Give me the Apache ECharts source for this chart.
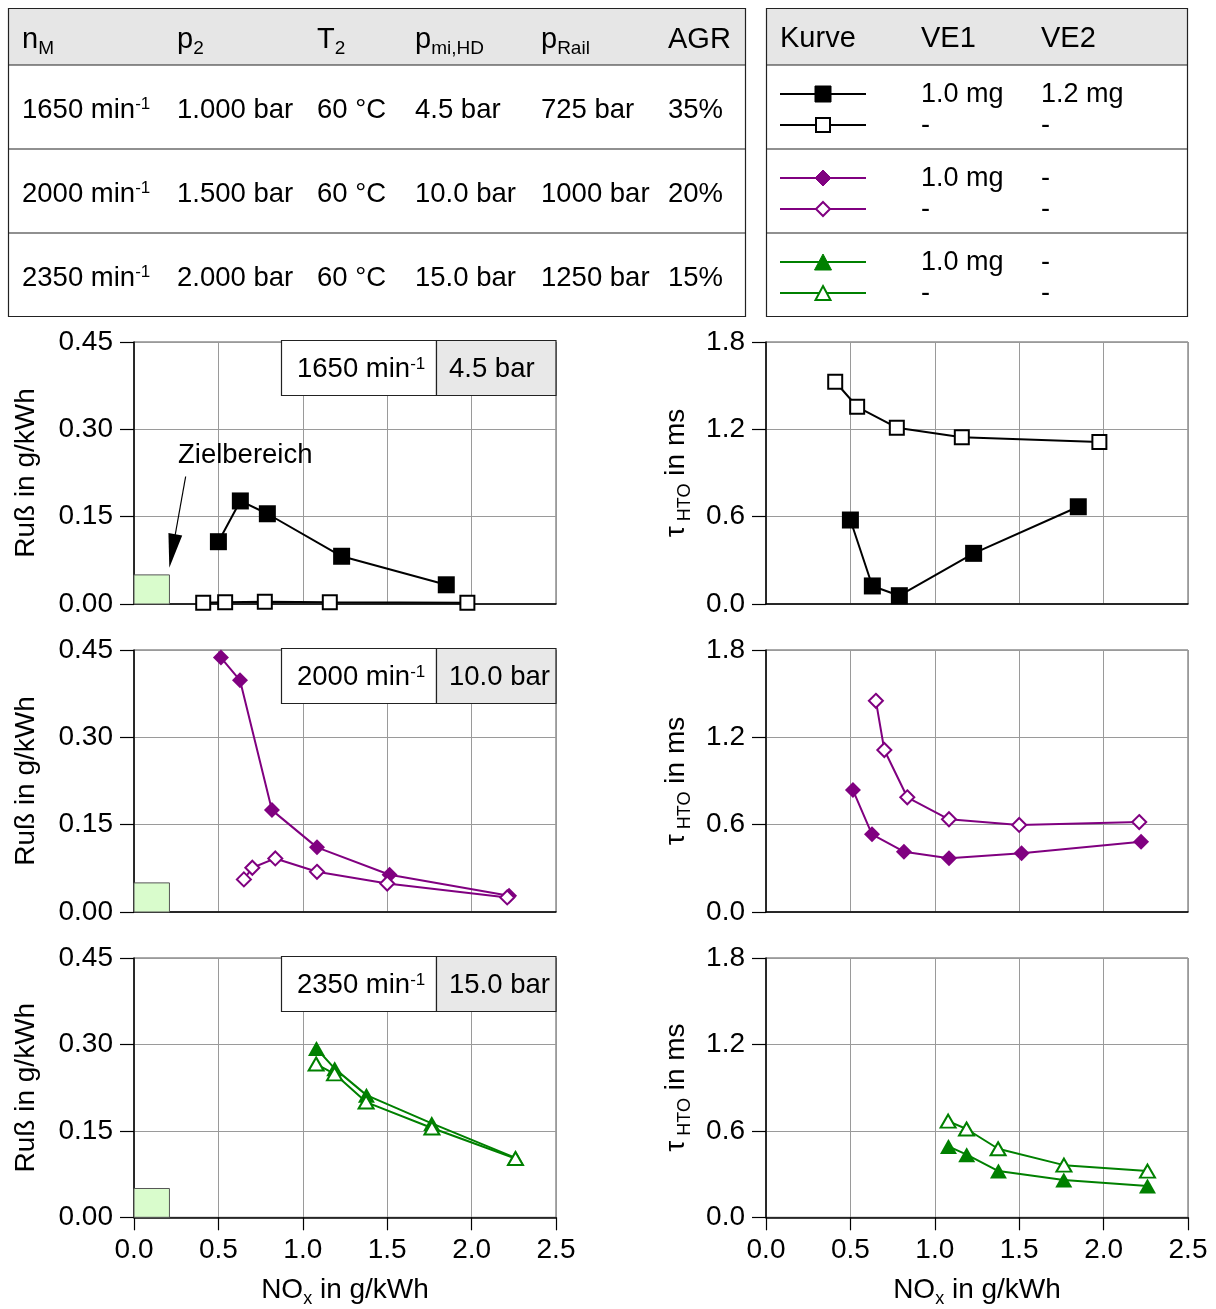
<!DOCTYPE html>
<html lang="de">
<head>
<meta charset="UTF-8">
<title>Ruß und τHTO über NOx</title>
<script src="https://cdn.jsdelivr.net/npm/echarts@6.0.0/dist/echarts.min.js"></script>
<style>
    html, body { margin: 0; padding: 0; background: #fff; }
    #chart { width: 1216px; height: 1309px; }
</style>
</head>
<body>
<div id="chart"></div>
<script>
// Betriebspunkte (Tabelle links)
const speeds = ['1650', '2000', '2350'];
const boost = ['1.000', '1.500', '2.000'];
const chargeTemp = ['60', '60', '60'];
const pmiHD = ['4.5', '10.0', '15.0'];
const pRail = ['725', '1000', '1250'];
const egr = ['35%', '20%', '15%'];

// Kurven-Tabelle rechts: [gefüllt, offen]
const ve1 = [['1.0 mg', '-'], ['1.0 mg', '-'], ['1.0 mg', '-']];
const ve2 = [['1.2 mg', '-'], ['-', '-'], ['-', '-']];

// 1650 min-1 / 4.5 bar
const noxBlackFilled = [0.50, 0.63, 0.79, 1.23, 1.85];
const sootBlackFilled = [0.107, 0.177, 0.155, 0.082, 0.033];
const tauBlackFilled = [0.577, 0.124, 0.057, 0.348, 0.668];
const noxBlackOpen = [0.41, 0.54, 0.775, 1.16, 1.975];
const sootBlackOpen = [0.002, 0.003, 0.004, 0.003, 0.002];
const tauBlackOpen = [1.527, 1.355, 1.211, 1.145, 1.113];

// 2000 min-1 / 10.0 bar
const noxPurpleFilled = [0.515, 0.628, 0.817, 1.084, 1.514, 2.222];
const sootPurpleFilled = [0.437, 0.398, 0.175, 0.111, 0.064, 0.028];
const tauPurpleFilled = [0.838, 0.534, 0.414, 0.369, 0.403, 0.483];
const noxPurpleOpen = [0.651, 0.701, 0.837, 1.084, 1.500, 2.211];
const sootPurpleOpen = [0.056, 0.076, 0.092, 0.069, 0.049, 0.025];
const tauPurpleOpen = [1.451, 1.113, 0.788, 0.637, 0.598, 0.618];

// 2350 min-1 / 15.0 bar
const noxGreenFilled = [1.081, 1.189, 1.377, 1.764, 2.260];
const sootGreenFilled = [0.293, 0.258, 0.212, 0.163, 0.103];
const tauGreenFilled = [0.492, 0.435, 0.321, 0.259, 0.218];
const noxGreenOpen = [1.079, 1.188, 1.375, 1.765, 2.260];
const sootGreenOpen = [0.266, 0.249, 0.200, 0.155, 0.102];
const tauGreenOpen = [0.668, 0.613, 0.476, 0.362, 0.321];

// Zielbereich (NOx, Ruß) und Pfeil
const targetCorner = [0.21, 0.05];
const arrowFrom = [0.306, 0.219];
const arrowTo = [0.227, 0.091];

const xTicks = [0, 0.5, 1.0, 1.5, 2.0, 2.5];
const sootTicks = [0, 0.15, 0.30, 0.45];
const tauTicks = [0, 0.6, 1.2, 1.8];

const FONT = "'Liberation Sans', Arial, Helvetica, sans-serif";
const BLACK = '#000000', PURPLE = '#800080', GREEN = '#008000';

// Layout
const GX = [134, 766], GY = [342, 650, 958], GW = 422, GH = 262;

// rich text with sub/superscript
function richFor(fs) {
    const L = Math.round(fs * 1.35);
    const sp = Math.round(fs * 0.62), sb = Math.round(fs * 0.66);
    return {
        m: { fontSize: fs, lineHeight: L, fontFamily: FONT, fill: '#000', color: '#000' },
        sup: { fontSize: sp, height: L - 0.812 * (fs - sp) - 2, verticalAlign: 'top', fontFamily: FONT, fill: '#000', color: '#000' },
        sub: { fontSize: sb, height: L - 1.02 * fs + 0.62 * sb, verticalAlign: 'bottom', fontFamily: FONT, fill: '#000', color: '#000' }
    };
}
const minTxt = s => '{m|' + s + ' min}{sup|-1}';

function text(x, y, str, fs, align) {
    return {
        type: 'text', x: x, y: y, z: 20,
        style: { text: str, rich: richFor(fs), fontFamily: FONT, fontSize: fs, fill: '#000', align: align || 'left', verticalAlign: 'middle' }
    };
}
function rect(x, y, w, h, fill, stroke, lw) {
    return { type: 'rect', z: 10, shape: { x: x, y: y, width: w, height: h }, style: { fill: fill, stroke: stroke || null, lineWidth: lw || 1 } };
}
function hline(x1, x2, y, color, lw) {
    return { type: 'line', z: 11, shape: { x1: x1, y1: y, x2: x2, y2: y }, style: { stroke: color, lineWidth: lw || 1.2 } };
}

const graphics = [];

// --- Tabelle Betriebspunkte ---
graphics.push(rect(8.5, 8.5, 737, 56.5, '#e6e6e6'));
graphics.push(rect(8.5, 8.5, 737, 308, 'none', '#222', 1.2));
[65, 149, 233].forEach(y => graphics.push(hline(8.5, 745.5, y, '#222', 1.2)));
const colX = [22, 177, 317, 415, 541, 668];
const heads = ['{m|n}{sub|M}', '{m|p}{sub|2}', '{m|T}{sub|2}', '{m|p}{sub|mi,HD}', '{m|p}{sub|Rail}', '{m|AGR}'];
heads.forEach((h, i) => graphics.push(text(colX[i], 40, h, 29)));
const rowY = [110, 194, 278];
for (let r = 0; r < 3; r++) {
    const cells = [minTxt(speeds[r]), '{m|' + boost[r] + ' bar}', '{m|' + chargeTemp[r] + ' °C}',
        '{m|' + pmiHD[r] + ' bar}', '{m|' + pRail[r] + ' bar}', '{m|' + egr[r] + '}'];
    cells.forEach((c, i) => graphics.push(text(colX[i], rowY[r], c, 27.5)));
}

// --- Tabelle Kurven ---
graphics.push(rect(766.5, 8.5, 421, 56.5, '#e6e6e6'));
graphics.push(rect(766.5, 8.5, 421, 308, 'none', '#222', 1.2));
[65, 149, 233].forEach(y => graphics.push(hline(766.5, 1187.5, y, '#222', 1.2)));
graphics.push(text(780, 39, '{m|Kurve}', 29));
graphics.push(text(921, 39, '{m|VE1}', 29));
graphics.push(text(1041, 39, '{m|VE2}', 29));

const legendRows = [
    { color: BLACK, shape: 'square', y: [94, 125] },
    { color: PURPLE, shape: 'diamond', y: [178, 209] },
    { color: GREEN, shape: 'triangle', y: [262, 293] }
];
function legendMark(shape, cx, cy, color, filled) {
    const style = filled ? { fill: color, stroke: color, lineWidth: 1 } : { fill: '#fff', stroke: color, lineWidth: 2 };
    if (shape === 'square') {
        const s = filled ? 16 : 14;
        return { type: 'rect', z: 12, shape: { x: cx - s / 2, y: cy - s / 2, width: s, height: s }, style: style };
    }
    if (shape === 'diamond') {
        const s = filled ? 8 : 7;
        return { type: 'polygon', z: 12, shape: { points: [[cx, cy - s], [cx + s, cy], [cx, cy + s], [cx - s, cy]] }, style: style };
    }
    const w = filled ? 8.5 : 7.5, h = filled ? 8 : 7;
    return { type: 'polygon', z: 12, shape: { points: [[cx, cy - h], [cx + w, cy + h], [cx - w, cy + h]] }, style: style };
}
legendRows.forEach((lr, r) => {
    [0, 1].forEach(k => {
        graphics.push(hline(780, 866, lr.y[k], lr.color, 2));
        graphics.push(legendMark(lr.shape, 823, lr.y[k], lr.color, k === 0));
        graphics.push(text(921, lr.y[k] + 1, '{m|' + ve1[r][k] + '}', 27));
        graphics.push(text(1041, lr.y[k] + 1, '{m|' + ve2[r][k] + '}', 27));
    });
});

// --- Kästen in den Ruß-Diagrammen ---
for (let r = 0; r < 3; r++) {
    const right = GX[0] + GW, top = GY[r] - 1.5;
    graphics.push(rect(281.5, top, 155, 55, '#fff', '#222', 1.2));
    graphics.push(rect(436.5, top, right - 436.5, 55, '#e8e8e8', '#222', 1.2));
    graphics.push(text(297, top + 29, minTxt(speeds[r]), 27.5));
    graphics.push(text(449, top + 29, '{m|' + pmiHD[r] + ' bar}', 27.5));
}
graphics.push(text(178, 455, '{m|Zielbereich}', 27.5));

// --- Achsen ---
const grids = [], xAxes = [], yAxes = [];
for (let r = 0; r < 3; r++) {
    for (let c = 0; c < 2; c++) {
        const i = r * 2 + c;
        const ticks = c === 0 ? sootTicks : tauTicks;
        grids.push({ left: GX[c], top: GY[r], width: GW, height: GH, show: true, borderColor: '#555', borderWidth: 1, backgroundColor: 'transparent' });
        xAxes.push({
            gridIndex: i, type: 'value', min: xTicks[0], max: xTicks[xTicks.length - 1], interval: xTicks[1] - xTicks[0],
            axisLine: { show: true, onZero: false, lineStyle: { color: '#000', width: 1.5 } },
            axisTick: { show: r === 2, length: 13, lineStyle: { color: '#000', width: 1.2 } },
            axisLabel: { show: r === 2, fontSize: 28, fontFamily: FONT, color: '#000', margin: 19, formatter: v => v.toFixed(1) },
            splitLine: { show: true, lineStyle: { color: '#9a9a9a', width: 1 } },
            name: r === 2 ? '{m|NO}{sub|x}{m| in g/kWh}' : '',
            nameLocation: 'middle', nameGap: 54,
            nameTextStyle: { rich: richFor(28) }
        });
        yAxes.push({
            gridIndex: i, type: 'value', min: ticks[0], max: ticks[ticks.length - 1], interval: ticks[1] - ticks[0],
            axisLine: { show: true, onZero: false, lineStyle: { color: '#000', width: 1.5 } },
            axisTick: { show: true, length: 14, lineStyle: { color: '#000', width: 1.2 } },
            axisLabel: { fontSize: 28, fontFamily: FONT, color: '#000', margin: 21, formatter: v => v.toFixed(c === 0 ? 2 : 1) },
            splitLine: { show: true, lineStyle: { color: '#9a9a9a', width: 1 } },
            name: c === 0 ? '{m|Ruß in g/kWh}' : '{m|τ}{sub| HTO}{m| in ms}',
            nameLocation: 'middle', nameGap: c === 0 ? 89 : 71,
            nameTextStyle: { rich: richFor(28) }
        });
    }
}

// --- Kurven ---
const curves = [
    { row: 0, nox: noxBlackFilled, soot: sootBlackFilled, tau: tauBlackFilled, color: BLACK, symbol: 'rect', size: 17, filled: true },
    { row: 0, nox: noxBlackOpen, soot: sootBlackOpen, tau: tauBlackOpen, color: BLACK, symbol: 'rect', size: 14, filled: false },
    { row: 1, nox: noxPurpleFilled, soot: sootPurpleFilled, tau: tauPurpleFilled, color: PURPLE, symbol: 'diamond', size: 16, filled: true },
    { row: 1, nox: noxPurpleOpen, soot: sootPurpleOpen, tau: tauPurpleOpen, color: PURPLE, symbol: 'diamond', size: 14, filled: false },
    { row: 2, nox: noxGreenFilled, soot: sootGreenFilled, tau: tauGreenFilled, color: GREEN, symbol: 'triangle', size: [17, 15], filled: true },
    { row: 2, nox: noxGreenOpen, soot: sootGreenOpen, tau: tauGreenOpen, color: GREEN, symbol: 'triangle', size: [15, 13], filled: false }
];

const series = [];
curves.forEach(cv => {
    [0, 1].forEach(c => {
        const ys = c === 0 ? cv.soot : cv.tau;
        const s = {
            type: 'line', xAxisIndex: cv.row * 2 + c, yAxisIndex: cv.row * 2 + c,
            data: cv.nox.map((x, k) => [x, ys[k]]),
            symbol: cv.symbol, symbolSize: cv.size, showSymbol: true, clip: false,
            lineStyle: { color: cv.color, width: 2 },
            itemStyle: cv.filled ? { color: cv.color, borderColor: cv.color, borderWidth: 0 }
                                 : { color: '#fff', borderColor: cv.color, borderWidth: 2 },
            z: cv.filled ? 3 : 4
        };
        if (c === 0 && cv.filled) {
            s.markArea = {
                silent: true,
                itemStyle: { color: '#d9fccc', borderColor: '#555', borderWidth: 1 },
                data: [[{ coord: [0, 0] }, { coord: targetCorner }]]
            };
        }
        if (c === 0 && cv.filled && cv.row === 0) {
            s.markLine = {
                silent: true, symbol: ['none', 'triangle'],
                lineStyle: { color: '#000', width: 1.2, type: 'solid' },
                label: { show: false },
                data: [[{ coord: arrowFrom }, { coord: arrowTo, symbolSize: [14, 34] }]]
            };
        }
        series.push(s);
    });
});

const chart = echarts.init(document.getElementById('chart'), null, { renderer: 'canvas' });
chart.setOption({
    animation: false,
    backgroundColor: '#fff',
    textStyle: { fontFamily: FONT },
    grid: grids,
    xAxis: xAxes,
    yAxis: yAxes,
    series: series,
    graphic: graphics
});
</script>
</body>
</html>
